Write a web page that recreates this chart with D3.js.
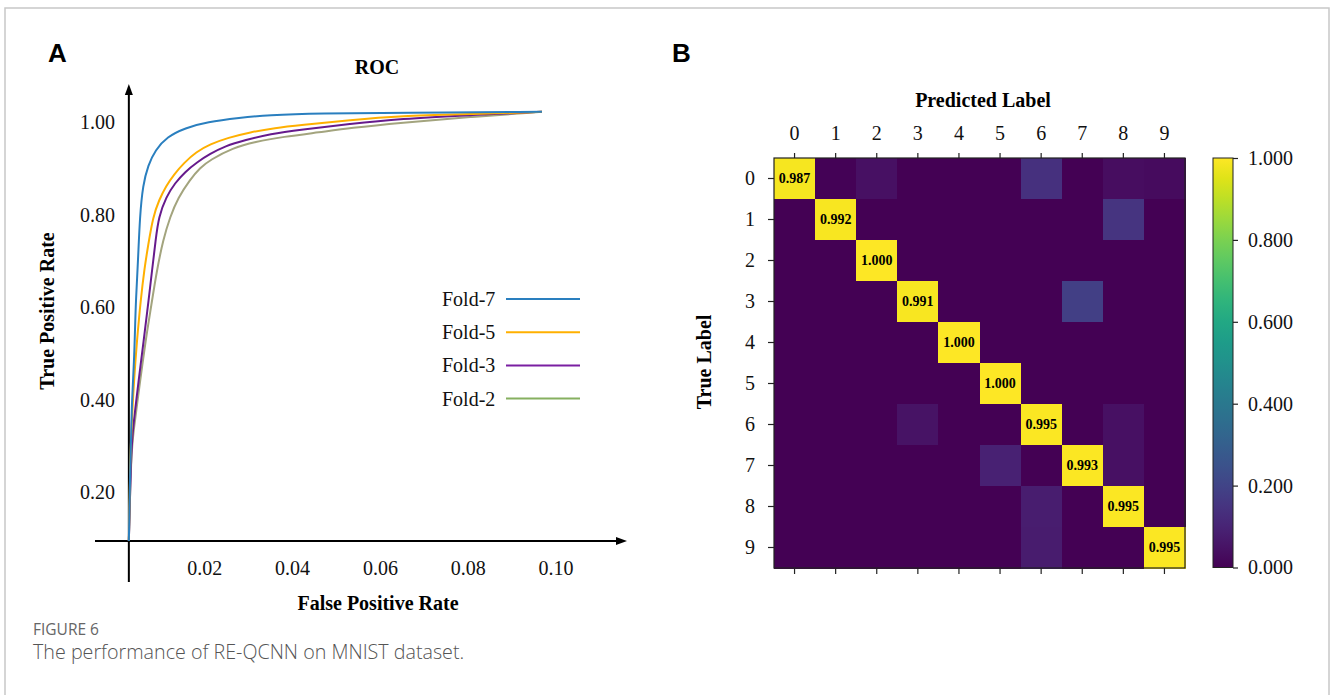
<!DOCTYPE html>
<html><head><meta charset="utf-8">
<script src="https://cdn.jsdelivr.net/npm/d3@7"></script>
<style>body{margin:0;background:#fff;} svg{display:block;}</style>
</head><body>
<svg id="chart" width="1332" height="695"></svg>
<script>
// ---------------- DATA ----------------
const folds = ["Fold-7", "Fold-5", "Fold-3", "Fold-2"];
const fold7FPR = [0.0027,0.0030,0.0032,0.0034,0.0039,0.0041,0.0043,0.0048,0.0052,0.0059,0.0071,0.0087,0.0114,0.0155,0.0205,0.0280,0.0342,0.0462,0.0645,0.0968];
const fold7TPR = [0.094,0.248,0.312,0.399,0.485,0.550,0.615,0.701,0.795,0.864,0.907,0.939,0.968,0.987,1.000,1.009,1.015,1.019,1.020,1.022];
const fold5FPR = [0.0027,0.0030,0.0033,0.0036,0.0042,0.0047,0.0054,0.0062,0.0071,0.0082,0.0096,0.0112,0.0130,0.0153,0.0180,0.0212,0.0253,0.0303,0.0360,0.0417,0.0531,0.0645,0.0804,0.0968];
const fold5TPR = [0.094,0.269,0.334,0.399,0.485,0.544,0.615,0.680,0.734,0.795,0.832,0.862,0.887,0.912,0.935,0.952,0.966,0.978,0.987,0.993,1.004,1.013,1.017,1.022];
const fold3FPR = [0.0027,0.0032,0.0036,0.0044,0.0055,0.0063,0.0072,0.0080,0.0088,0.0095,0.0112,0.0132,0.0155,0.0182,0.0212,0.0246,0.0292,0.0349,0.0417,0.0531,0.0645,0.0804,0.0968];
const fold3TPR = [0.094,0.280,0.334,0.399,0.485,0.544,0.615,0.680,0.745,0.795,0.838,0.868,0.892,0.913,0.931,0.948,0.961,0.974,0.983,0.996,1.007,1.015,1.022];
const fold2FPR = [0.0027,0.0032,0.0038,0.0047,0.0059,0.0068,0.0080,0.0091,0.0105,0.0121,0.0139,0.0166,0.0189,0.0212,0.0264,0.0314,0.0378,0.0462,0.0531,0.0645,0.0804,0.0968];
const fold2TPR = [0.094,0.280,0.334,0.399,0.485,0.544,0.615,0.680,0.745,0.795,0.836,0.875,0.901,0.918,0.944,0.957,0.968,0.978,0.987,0.998,1.011,1.022];
const rocXTicks = [0.02, 0.04, 0.06, 0.08, 0.10];
const rocYTicks = [0.20, 0.40, 0.60, 0.80, 1.00];
const axisCrossFPR = 0.0027;   // where the drawn axes cross
const axisCrossTPR = 0.094;

const digits = ["0","1","2","3","4","5","6","7","8","9"];
const confusion = [
  [0.987,0.005,0.040,0,0,0,0.140,0,0.035,0.030],
  [0,0.992,0,0,0,0,0,0,0.150,0],
  [0,0,1.000,0,0,0,0,0,0,0],
  [0,0,0,0.991,0,0,0,0.185,0,0],
  [0,0,0,0,1.000,0,0,0,0,0],
  [0,0,0,0,0,1.000,0,0,0,0],
  [0,0,0,0.050,0,0,0.995,0,0.040,0],
  [0,0,0,0,0,0.090,0,0.993,0.040,0],
  [0,0,0,0,0,0,0.080,0,0.995,0],
  [0,0,0,0,0,0,0.075,0,0,0.995]
];
const colorbarTicks = [0, 0.2, 0.4, 0.6, 0.8, 1.0];

// ---------------- STYLE ----------------
const serif = "'Liberation Serif','Times New Roman',serif";
const sans = "'Liberation Sans',Arial,sans-serif";
const lineColors = ["#2a7fbf", "#ffb000", "#661a8c", "#a3a47e"];
const legendColors = ["#2a7fbf", "#ffb000", "#7a1fa2", "#86b060"];

const svg = d3.select("#chart");

svg.append("path").attr("d", "M5,695 V8 H1329 V695")
  .attr("fill", "none").attr("stroke", "#c8c8c8").attr("stroke-width", 1.5);

// ---------------- PANEL A : ROC ----------------
const x = d3.scaleLinear().domain([0, 0.10]).range([117, 556]);
const y = d3.scaleLinear().domain([0, 1]).range([584.5, 122]);
const gA = svg.append("g");

gA.append("text").attr("x", 48).attr("y", 62).text("A")
  .attr("font-family", sans).attr("font-weight", "bold").attr("font-size", 26);
gA.append("text").attr("x", 377).attr("y", 74).attr("text-anchor", "middle").text("ROC")
  .attr("font-family", serif).attr("font-weight", "bold").attr("font-size", 20);

const ax0 = x(axisCrossFPR), ay0 = y(axisCrossTPR);
gA.append("line").attr("x1", ax0).attr("x2", ax0).attr("y1", 582).attr("y2", 92)
  .attr("stroke", "#000").attr("stroke-width", 2);
gA.append("path").attr("d", `M${ax0},84 L${ax0-4},95 L${ax0+4},95 Z`).attr("fill", "#000");
gA.append("line").attr("x1", 95).attr("x2", 618).attr("y1", ay0).attr("y2", ay0)
  .attr("stroke", "#000").attr("stroke-width", 2);
gA.append("path").attr("d", `M627,${ay0} L616,${ay0-4} L616,${ay0+4} Z`).attr("fill", "#000");

gA.append("g").selectAll("text").data(rocYTicks).join("text")
  .attr("x", 115).attr("y", d => y(d)).attr("dy", "0.35em").attr("text-anchor", "end")
  .attr("font-family", serif).attr("font-size", 20).attr("fill", "#111")
  .text(d => d3.format(".2f")(d));
gA.append("g").selectAll("text").data(rocXTicks).join("text")
  .attr("x", d => x(d)).attr("y", 575).attr("text-anchor", "middle")
  .attr("font-family", serif).attr("font-size", 20).attr("fill", "#111")
  .text(d => d3.format(".2f")(d));

gA.append("text").attr("transform", "translate(54,311) rotate(-90)").attr("text-anchor", "middle")
  .attr("font-family", serif).attr("font-weight", "bold").attr("font-size", 20).text("True Positive Rate");
gA.append("text").attr("x", 378).attr("y", 610).attr("text-anchor", "middle")
  .attr("font-family", serif).attr("font-weight", "bold").attr("font-size", 20).text("False Positive Rate");

const curves = [
  {name: folds[0], fpr: fold7FPR, tpr: fold7TPR, i: 0},
  {name: folds[1], fpr: fold5FPR, tpr: fold5TPR, i: 1},
  {name: folds[2], fpr: fold3FPR, tpr: fold3TPR, i: 2},
  {name: folds[3], fpr: fold2FPR, tpr: fold2TPR, i: 3}
];
const line = d3.line().x(d => x(d[0])).y(d => y(d[1])).curve(d3.curveBasis);
gA.append("g").selectAll("path").data(curves.slice().reverse()).join("path")
  .attr("d", c => line(c.fpr.map((f, k) => [f, c.tpr[k]])))
  .attr("fill", "none").attr("stroke", c => lineColors[c.i]).attr("stroke-width", 2)
  .attr("stroke-linejoin", "round");

const lg = gA.append("g").selectAll("g").data(folds).join("g")
  .attr("transform", (d, i) => `translate(0,${299 + i * 33.2})`);
lg.append("text").attr("x", 442).attr("dy", "0.35em").text(d => d)
  .attr("font-family", serif).attr("font-size", 20).attr("fill", "#111");
lg.append("line").attr("x1", 506).attr("x2", 580).attr("y1", 0).attr("y2", 0)
  .attr("stroke", (d, i) => legendColors[i]).attr("stroke-width", 2);

// ---------------- PANEL B : Confusion matrix ----------------
const gB = svg.append("g");
gB.append("text").attr("x", 672).attr("y", 62).text("B")
  .attr("font-family", sans).attr("font-weight", "bold").attr("font-size", 26);

const cx = d3.scaleBand().domain(digits).range([774, 1185]);
const cy = d3.scaleBand().domain(digits).range([158, 568]);
const color = d3.scaleSequential(d3.interpolateViridis).domain([0, 1]);

const cells = [];
confusion.forEach((row, r) => row.forEach((v, c) => cells.push({r: digits[r], c: digits[c], v})));
gB.append("g").attr("shape-rendering", "crispEdges").selectAll("rect").data(cells).join("rect")
  .attr("x", d => cx(d.c)).attr("y", d => cy(d.r))
  .attr("width", cx.bandwidth() + 0.6).attr("height", cy.bandwidth() + 0.6)
  .attr("fill", d => color(d.v));
gB.append("g").selectAll("text").data(cells.filter(d => d.r === d.c)).join("text")
  .attr("x", d => cx(d.c) + cx.bandwidth() / 2).attr("y", d => cy(d.r) + cy.bandwidth() / 2)
  .attr("dy", "0.35em").attr("text-anchor", "middle")
  .attr("font-family", serif).attr("font-weight", "bold").attr("font-size", 14).attr("fill", "#000")
  .text(d => d3.format(".3f")(d.v));
gB.append("rect").attr("x", 774).attr("y", 158).attr("width", 411).attr("height", 410)
  .attr("fill", "none").attr("stroke", "#222").attr("stroke-width", 1.2);

function styleAxis(g) {
  g.select(".domain").remove();
  g.selectAll(".tick line").attr("stroke", "#222").attr("stroke-width", 1.2);
  g.selectAll(".tick text").attr("font-family", serif).attr("font-size", 20).attr("fill", "#111");
}
gB.append("g").attr("transform", "translate(0,158)")
  .call(d3.axisTop(cx).tickSize(5).tickPadding(13)).call(styleAxis);
gB.append("g").attr("transform", "translate(774,0)")
  .call(d3.axisLeft(cy).tickSize(6).tickPadding(13)).call(styleAxis);
gB.append("g").attr("transform", "translate(0,568)")
  .call(d3.axisBottom(cx).tickSize(6).tickFormat("")).call(styleAxis);

gB.append("text").attr("x", 983).attr("y", 107).attr("text-anchor", "middle")
  .attr("font-family", serif).attr("font-weight", "bold").attr("font-size", 20).text("Predicted Label");
gB.append("text").attr("transform", "translate(711,362) rotate(-90)").attr("text-anchor", "middle")
  .attr("font-family", serif).attr("font-weight", "bold").attr("font-size", 20).text("True Label");

const defs = svg.append("defs");
const grad = defs.append("linearGradient").attr("id", "vir").attr("x1", 0).attr("y1", 1).attr("x2", 0).attr("y2", 0);
grad.selectAll("stop").data(d3.range(0, 1.0001, 0.05)).join("stop")
  .attr("offset", d => d).attr("stop-color", d => color(d));
const cb = d3.scaleLinear().domain([0, 1]).range([567.5, 158]);
gB.append("rect").attr("x", 1213).attr("y", 158).attr("width", 20).attr("height", 409.5)
  .attr("fill", "url(#vir)").attr("stroke", "#222").attr("stroke-width", 1);
gB.append("g").attr("transform", "translate(1233,0)")
  .call(d3.axisRight(cb).tickValues(colorbarTicks).tickSize(5).tickPadding(10).tickFormat(d3.format(".3f")))
  .call(styleAxis);

// ---------------- CAPTION ----------------
svg.append("text").attr("x", 33).attr("y", 635).text("FIGURE 6")
  .attr("font-family", "'Open Sans',sans-serif").attr("font-size", 15.5).attr("fill", "#666");
svg.append("text").attr("x", 33).attr("y", 659).text("The performance of RE-QCNN on MNIST dataset.")
  .attr("font-family", "'Open Sans',sans-serif").attr("font-size", 19.7).attr("font-weight", 300).attr("fill", "#555");
</script>
</body></html>
